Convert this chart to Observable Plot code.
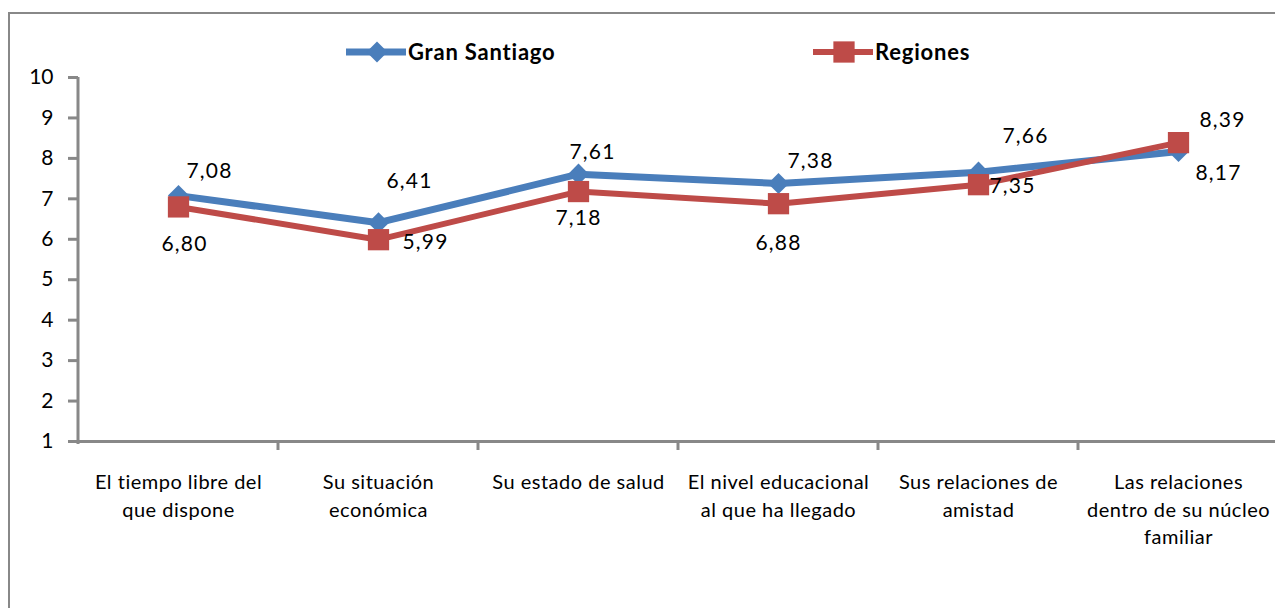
<!DOCTYPE html>
<html>
<head>
<meta charset="utf-8">
<script src="https://cdn.jsdelivr.net/npm/d3@7"></script>
<script src="https://cdn.jsdelivr.net/npm/@observablehq/plot@0.6"></script>
<style>
  html, body { margin: 0; padding: 0; background: #fff; overflow: hidden; }
  #wrap { position: relative; width: 1275px; height: 608px; overflow: hidden; }
  #frame { position: absolute; left: 8px; top: 12px; width: 1300px; height: 700px; border: 2px solid #888; box-sizing: border-box; }
  #chart { position: absolute; left: 0; top: 0; }
  .xlab text { letter-spacing: 0.5px; }
  .vlab text { letter-spacing: 1.2px; }
</style>
</head>
<body>
<div id="wrap"><div id="frame"></div><div id="chart"></div></div>
<script>
const categories = [
  "El tiempo libre del\nque dispone",
  "Su situación\neconómica",
  "Su estado de salud",
  "El nivel educacional\nal que ha llegado",
  "Sus relaciones de\namistad",
  "Las relaciones\ndentro de su núcleo\nfamiliar"
];
const seriesNames = ["Gran Santiago", "Regiones"];
const granSantiago = [7.08, 6.41, 7.61, 7.38, 7.66, 8.17];
const regiones = [6.80, 5.99, 7.18, 6.88, 7.35, 8.39];
const yTicks = [1, 2, 3, 4, 5, 6, 7, 8, 9, 10];

// label offsets (presentation)
const gsDx = [31, 31, 14, 32, 47, 40];
const gsDy = [-24, -41, -22, -22, -36, 22];
const rgDx = [6, 47, 0, 0, 34, 44];
const rgDy = [37, 3, 27, 40, 2, -22];

const colors = ["#4a7ebb", "#be4b48"];
const fmt = v => v.toFixed(2).replace(".", ",");
const FONT = "Lato, 'Open Sans', sans-serif";

const gs = categories.map((c, i) => ({c, v: granSantiago[i], dx: gsDx[i], dy: gsDy[i]}));
const rg = categories.map((c, i) => ({c, v: regiones[i], dx: rgDx[i], dy: rgDy[i]}));

const labelMarks = (data) => data.map(d => Plot.text([d], {
  x: "c", y: "v", text: d => fmt(d.v), dx: d.dx, dy: d.dy,
  fontSize: 21, fill: "#000", className: "vlab"
}));

const chart = Plot.plot({
  width: 1275, height: 608,
  marginLeft: 78, marginTop: 77, marginBottom: 167, marginRight: 0,
  style: { fontFamily: FONT, background: "transparent", overflow: "visible" },
  x: { type: "band", domain: categories, range: [78, 1278], padding: 0 },
  y: { domain: [1, 10], range: [441, 77] },
  marks: [
    Plot.axisY({ ticks: yTicks, tickSize: 10, stroke: "#888", strokeWidth: 3, tickPadding: 15, fontSize: 21, fill: "#000", label: null }),
    Plot.axisX({ tickSize: 0, tickPadding: 28, fontSize: 20, fill: "#000", lineHeight: 1.38, label: null, className: "xlab" }),
    Plot.ruleY([1], { stroke: "#888", strokeWidth: 3 }),
    Plot.line(gs, { x: "c", y: "v", stroke: colors[0], strokeWidth: 7 }),
    Plot.dot(gs, { x: "c", y: "v", symbol: "diamond2", r: 9.5, fill: colors[0] }),
    Plot.line(rg, { x: "c", y: "v", stroke: colors[1], strokeWidth: 6 }),
    Plot.dot(rg, { x: "c", y: "v", symbol: "square", r: 12, fill: colors[1] }),
    ...labelMarks(gs),
    ...labelMarks(rg)
  ]
});

document.getElementById("chart").appendChild(chart);

// extra axis decorations drawn from the chart's own scales
const sx = chart.scale("x"), sy = chart.scale("y");
const svg = d3.select(chart);
const x0 = sx.range[0];
svg.append("line")
  .attr("x1", x0).attr("x2", x0)
  .attr("y1", sy.apply(10)).attr("y2", sy.apply(1) + 3)
  .attr("stroke", "#888").attr("stroke-width", 3);
svg.append("g").selectAll("line").data(categories.slice(1)).join("line")
  .attr("x1", c => sx.apply(c)).attr("x2", c => sx.apply(c))
  .attr("y1", sy.apply(1)).attr("y2", sy.apply(1) + 9)
  .attr("stroke", "#888").attr("stroke-width", 3);

// legend
const legend = svg.append("g").attr("font-family", FONT).attr("text-anchor", "start");
const legendX = [346, 813];
seriesNames.forEach((name, i) => {
  const g = legend.append("g").attr("transform", `translate(${legendX[i]},52)`);
  g.append("line").attr("x1", 0).attr("x2", 60).attr("y1", 0).attr("y2", 0)
    .attr("stroke", colors[i]).attr("stroke-width", i === 0 ? 7 : 6);
  const sym = i === 0 ? d3.symbol(d3.symbolDiamond2, Math.PI * 9.5 * 9.5) : d3.symbol(d3.symbolSquare, Math.PI * 12 * 12);
  g.append("path").attr("d", sym()).attr("transform", "translate(31,0)").attr("fill", colors[i]);
  g.append("text").attr("x", 62).attr("y", 0).attr("dy", "0.35em").attr("text-anchor", "start")
    .attr("font-size", 22).attr("letter-spacing", "0.8px").attr("font-weight", "bold").attr("fill", "#000").text(name);
});
</script>
</body>
</html>
